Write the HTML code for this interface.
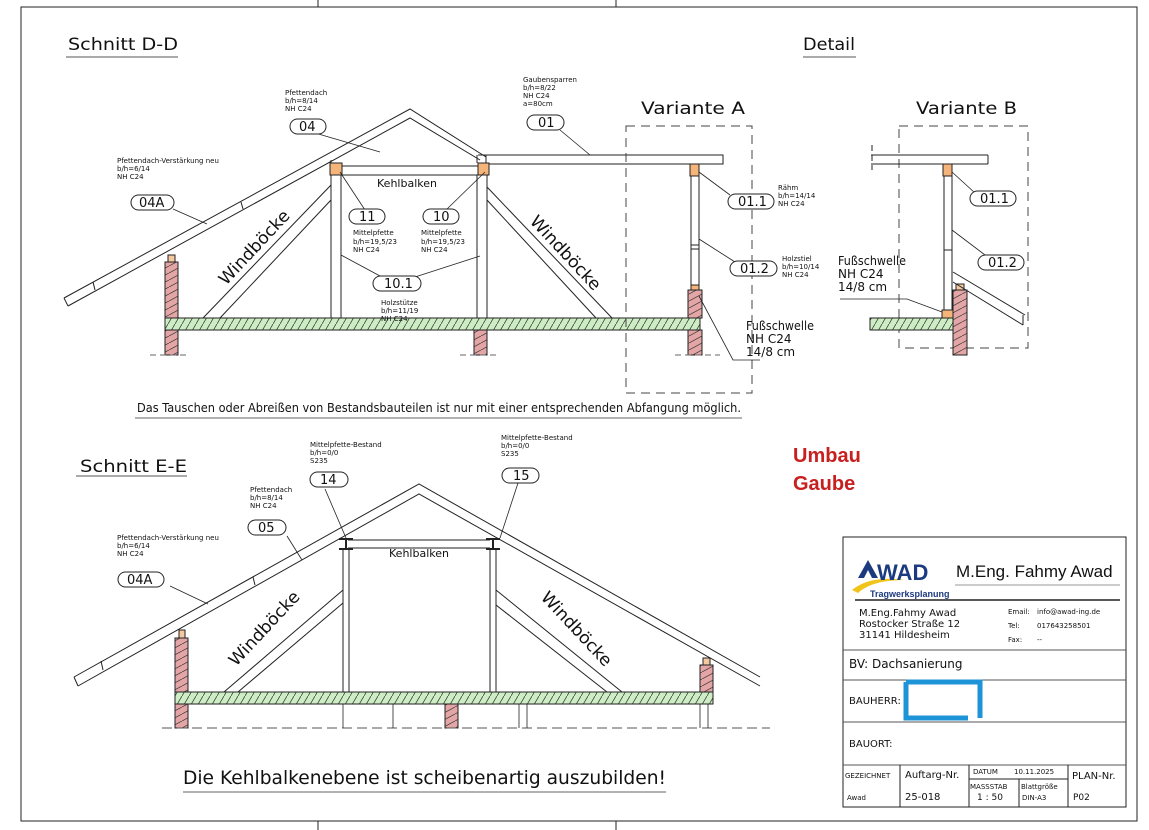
<!DOCTYPE html>
<html><head><meta charset="utf-8"><style>
html,body{margin:0;padding:0;background:#fff;}
svg{display:block;}
text{font-family:"DejaVu Sans","Liberation Sans",sans-serif;fill:#111;}
.cad{font-family:"DejaVu Sans Condensed","DejaVu Sans",sans-serif;}
.s{font-family:"Liberation Sans",sans-serif;font-size:7px;}
</style></head><body>
<svg width="1149" height="830" viewBox="0 0 1149 830" xmlns="http://www.w3.org/2000/svg">
<defs>
<pattern id="hg" width="7" height="12" patternUnits="userSpaceOnUse"><rect width="7" height="12" fill="#cdeec4"/><path d="M0 12 L7 0" stroke="#333" stroke-width="0.7"/></pattern>
<pattern id="hr" width="13" height="7" patternUnits="userSpaceOnUse"><rect width="13" height="7" fill="#e3a5a5"/><path d="M0 7 L13 0" stroke="#333" stroke-width="0.7"/></pattern>
</defs>
<g fill="none" stroke="#222" stroke-width="1">
<rect x="21" y="7" width="1116" height="814"/>
<line x1="318" y1="0" x2="318" y2="7"/><line x1="616" y1="0" x2="616" y2="7"/>
<line x1="318" y1="821" x2="318" y2="830"/><line x1="616" y1="821" x2="616" y2="830"/>

<line x1="66" y1="57" x2="178" y2="57" stroke="#555"/>
<line x1="803" y1="57" x2="856" y2="57" stroke="#555"/>
<polyline points="64,298 410,109 486,157"/>
<polyline points="68,306 410,118 480,160"/>
<line x1="64" y1="298" x2="68" y2="306"/>
<line x1="93" y1="282" x2="95" y2="290"/><line x1="241" y1="202" x2="243" y2="209"/>
<rect x="486" y="155" width="237" height="9"/>
<line x1="478" y1="155" x2="486" y2="155"/>
<line x1="342" y1="166" x2="478" y2="166"/><line x1="342" y1="175" x2="478" y2="175"/>
<rect x="330" y="163" width="12" height="12" fill="#f5b57a"/>
<rect x="478" y="163" width="11" height="12" fill="#f5b57a"/>
<rect x="331" y="175" width="10" height="143"/>
<rect x="477" y="175" width="10" height="143"/>
<line x1="331" y1="160" x2="331" y2="163"/><line x1="477" y1="155" x2="477" y2="163"/>
<line x1="331" y1="185" x2="203" y2="318"/><line x1="331" y1="200" x2="220" y2="318"/>
<line x1="487" y1="187" x2="612" y2="318"/><line x1="487" y1="200" x2="596" y2="318"/>
<rect x="165" y="318" width="535" height="12" fill="url(#hg)"/>
<rect x="165" y="262" width="13" height="56" fill="url(#hr)"/>
<rect x="165" y="330" width="13" height="25" fill="url(#hr)"/>
<rect x="168" y="255" width="7" height="7" fill="#f5c9a0"/>
<rect x="474" y="330" width="13" height="25" fill="url(#hr)"/>
<rect x="688" y="290" width="14" height="28" fill="url(#hr)"/>
<rect x="688" y="330" width="14" height="25" fill="url(#hr)"/>
<rect x="691" y="285" width="8" height="5" fill="#f5b57a"/>
<rect x="690" y="164" width="9" height="12" fill="#f5b57a"/>
<rect x="691" y="176" width="8" height="109"/>
<line x1="691" y1="245" x2="699" y2="245"/><line x1="691" y1="249" x2="699" y2="249"/>
<path d="M150 355 H190 M460 355 H500 M675 355 H720" stroke-dasharray="6 4" stroke="#666"/>
<rect x="626" y="126" width="126" height="267" stroke-dasharray="9 6" stroke="#444"/>
<rect x="899" y="126" width="129" height="222" stroke-dasharray="9 6" stroke="#444"/>
<line x1="871" y1="155" x2="988" y2="155"/><line x1="871" y1="164" x2="988" y2="164"/><line x1="988" y1="155" x2="988" y2="164"/>
<rect x="943" y="164" width="9" height="12" fill="#f5b57a"/>
<rect x="944" y="176" width="8" height="134"/>
<line x1="944" y1="250" x2="952" y2="250"/>
<rect x="942" y="310" width="11" height="8" fill="#f5b57a"/>
<rect x="870" y="318" width="97" height="12" fill="url(#hg)"/>
<rect x="953" y="290" width="14" height="65" fill="url(#hr)"/>
<rect x="956" y="284" width="8" height="6" fill="#f5c9a0"/>
<line x1="953" y1="272" x2="1025" y2="315"/><line x1="953" y1="282" x2="1023" y2="325"/><line x1="1023" y1="315" x2="1023" y2="325"/>
<line x1="872" y1="145" x2="872" y2="170" stroke-dasharray="6 4"/>
<g stroke-width="0.8">
<line x1="315" y1="133" x2="380" y2="152"/>
<line x1="173" y1="209" x2="207" y2="224"/>
<line x1="560" y1="130" x2="590" y2="155"/>
<line x1="340" y1="172" x2="365" y2="210"/>
<line x1="485" y1="172" x2="446" y2="210"/>
<line x1="341" y1="255" x2="380" y2="276"/><line x1="480" y1="256" x2="415" y2="277"/>
<line x1="699" y1="172" x2="730" y2="195"/>
<line x1="699" y1="239" x2="735" y2="262"/>
<polyline points="699,296 733,360 760,360"/>
<line x1="952" y1="172" x2="975" y2="193"/>
<line x1="952" y1="230" x2="985" y2="255"/>
<polyline points="840,299 907,299 942,312"/>
</g>
<line x1="135" y1="418" x2="742" y2="418" stroke="#666"/>

<line x1="76" y1="476" x2="187" y2="476" stroke="#555"/>
<polyline points="74,677 419,484 760,677"/>
<polyline points="78,686 419,494 760,686"/>
<line x1="74" y1="677" x2="78" y2="686"/>
<line x1="101" y1="661" x2="103" y2="670"/><line x1="253" y1="577" x2="255" y2="585"/>
<line x1="348" y1="540" x2="490" y2="540"/><line x1="348" y1="548" x2="490" y2="548"/>
<g stroke-width="2"><line x1="339" y1="539" x2="353" y2="539"/><line x1="339" y1="549" x2="353" y2="549"/><line x1="346" y1="539" x2="346" y2="549"/>
<line x1="486" y1="539" x2="500" y2="539"/><line x1="486" y1="549" x2="500" y2="549"/><line x1="493" y1="539" x2="493" y2="549"/></g>
<rect x="343" y="549" width="6" height="143"/>
<rect x="490" y="549" width="6" height="143"/>
<line x1="343" y1="590" x2="224" y2="692"/><line x1="343" y1="603" x2="238" y2="692"/>
<line x1="496" y1="590" x2="622" y2="692"/><line x1="496" y1="605" x2="607" y2="692"/>
<rect x="175" y="692" width="538" height="12" fill="url(#hg)"/>
<rect x="175" y="638" width="13" height="54" fill="url(#hr)"/>
<rect x="175" y="704" width="13" height="24" fill="url(#hr)"/>
<rect x="179" y="630" width="6" height="8" fill="#f5c9a0"/>
<rect x="445" y="704" width="13" height="24" fill="url(#hr)"/>
<rect x="700" y="665" width="13" height="27" fill="url(#hr)"/>
<rect x="703" y="658" width="7" height="7" fill="#f5c9a0"/>
<path d="M162 728 H770" stroke-dasharray="10 5" stroke="#555"/>
<path d="M343 704V728 M393 704V728 M519 704V728 M527 704V728 M700 704V728 M708 704V728" stroke-width="0.8"/>
<g stroke-width="0.8">
<line x1="287" y1="536" x2="302" y2="560"/>
<line x1="170" y1="586" x2="208" y2="604"/>
<line x1="325" y1="489" x2="346" y2="538"/>
<line x1="518" y1="483" x2="500" y2="538"/>
</g>
<line x1="183" y1="792" x2="666" y2="792" stroke="#666"/>

<rect x="843" y="537" width="283" height="270"/>
<line x1="855" y1="600" x2="1120" y2="600" stroke-width="1.5"/>
<line x1="955" y1="585" x2="1120" y2="585" stroke="#999"/>
<line x1="843" y1="650" x2="1126" y2="650" stroke="#555"/>
<line x1="843" y1="680" x2="1126" y2="680" stroke="#555"/>
<line x1="843" y1="722" x2="1126" y2="722" stroke="#555"/>
<line x1="843" y1="765" x2="1126" y2="765" stroke="#555"/>
<line x1="900" y1="765" x2="900" y2="807"/>
<line x1="969" y1="765" x2="969" y2="807"/>
<line x1="1068" y1="765" x2="1068" y2="807"/>
<line x1="969" y1="779" x2="1068" y2="779"/>
<line x1="1019" y1="779" x2="1019" y2="807"/>
<path d="M906 682 H980 V718 M906 682 V718 H968" stroke="#1d93d8" stroke-width="5"/>
</g>

<path d="M858 578 L868 560 L878 578 L872 578 L868 570 L864 578Z" fill="#1c3a80"/>
<path d="M852 590 Q870 575 905 580 Q872 580 858 593Z" fill="#f0c419"/>
<text x="877" y="580" style="font-family:'Liberation Sans';font-weight:bold;font-size:22px;fill:#1c3a80">WAD</text>
<text x="870" y="597" style="font-family:'Liberation Sans';font-weight:bold;font-size:9px;fill:#1c3a80">Tragwerksplanung</text>
<text x="956" y="577" style="font-family:'Liberation Sans';font-size:17px">M.Eng. Fahmy Awad</text>

<g class="cad">
<text x="68" y="50" font-size="17" textLength="110" lengthAdjust="spacingAndGlyphs">Schnitt D-D</text>
<text x="803" y="50" font-size="17" textLength="52" lengthAdjust="spacingAndGlyphs">Detail</text>
<text x="641" y="114" font-size="17" textLength="104" lengthAdjust="spacingAndGlyphs">Variante A</text>
<text x="916" y="114" font-size="17" textLength="101" lengthAdjust="spacingAndGlyphs">Variante B</text>
<text x="377" y="187" font-size="11" textLength="60" lengthAdjust="spacingAndGlyphs">Kehlbalken</text>
<text transform="translate(226,286) rotate(-47)" font-size="17" textLength="95" lengthAdjust="spacingAndGlyphs">Windböcke</text>
<text transform="translate(529,222) rotate(47)" font-size="17" textLength="95" lengthAdjust="spacingAndGlyphs">Windböcke</text>
<text x="746" y="330" font-size="12" textLength="68" lengthAdjust="spacingAndGlyphs">Fußschwelle</text>
<text x="746" y="343" font-size="12">NH C24</text>
<text x="746" y="356" font-size="12">14/8 cm</text>
<text x="838" y="265" font-size="12" textLength="68" lengthAdjust="spacingAndGlyphs">Fußschwelle</text>
<text x="838" y="278" font-size="12">NH C24</text>
<text x="838" y="291" font-size="12">14/8 cm</text>
<text x="137" y="412" font-size="12" textLength="604" lengthAdjust="spacingAndGlyphs">Das Tauschen oder Abreißen von Bestandsbauteilen ist nur mit einer entsprechenden Abfangung möglich.</text>
<text x="80" y="472" font-size="17" textLength="107" lengthAdjust="spacingAndGlyphs">Schnitt E-E</text>
<text x="389" y="557" font-size="11" textLength="60" lengthAdjust="spacingAndGlyphs">Kehlbalken</text>
<text transform="translate(236,667) rotate(-47)" font-size="17" textLength="95" lengthAdjust="spacingAndGlyphs">Windböcke</text>
<text transform="translate(540,598) rotate(47)" font-size="17" textLength="95" lengthAdjust="spacingAndGlyphs">Windböcke</text>
<text x="183" y="784" font-size="19" textLength="483" lengthAdjust="spacingAndGlyphs">Die Kehlbalkenebene ist scheibenartig auszubilden!</text>
<text x="859" y="616" font-size="10">M.Eng.Fahmy Awad</text>
<text x="859" y="627" font-size="10">Rostocker Straße 12</text>
<text x="859" y="638" font-size="10">31141 Hildesheim</text>
<text x="1008" y="614" font-size="7">Email:</text><text x="1037" y="614" font-size="7">info@awad-ing.de</text>
<text x="1008" y="628" font-size="7">Tel:</text><text x="1037" y="628" font-size="7">017643258501</text>
<text x="1008" y="642" font-size="7">Fax:</text><text x="1037" y="642" font-size="7">--</text>
<text x="849" y="668" font-size="12">BV: Dachsanierung</text>
<text x="849" y="704" font-size="10">BAUHERR:</text>
<text x="849" y="747" font-size="10">BAUORT:</text>
<text x="845" y="778" font-size="7">GEZEICHNET</text>
<text x="847" y="800" font-size="7">Awad</text>
<text x="905" y="778" font-size="10">Auftarg-Nr.</text>
<text x="905" y="800" font-size="10">25-018</text>
<text x="973" y="774" font-size="7">DATUM</text><text x="1014" y="774" font-size="7">10.11.2025</text>
<text x="970" y="789" font-size="7">MASSSTAB</text><text x="977" y="800" font-size="9">1 : 50</text>
<text x="1021" y="789" font-size="7">Blattgröße</text><text x="1022" y="800" font-size="7">DIN-A3</text>
<text x="1072" y="779" font-size="10">PLAN-Nr.</text>
<text x="1073" y="800" font-size="9">P02</text>
</g>

<g class="s">
<text x="285" y="95">Pfettendach</text><text x="285" y="103">b/h=8/14</text><text x="285" y="111">NH C24</text>
<text x="117" y="163">Pfettendach-Verstärkung neu</text><text x="117" y="171">b/h=6/14</text><text x="117" y="179">NH C24</text>
<text x="523" y="82">Gaubensparren</text><text x="523" y="90">b/h=8/22</text><text x="523" y="98">NH C24</text><text x="523" y="106">a=80cm</text>
<text x="353" y="235">Mittelpfette</text><text x="353" y="244">b/h=19,5/23</text><text x="353" y="252">NH C24</text>
<text x="421" y="235">Mittelpfette</text><text x="421" y="244">b/h=19,5/23</text><text x="421" y="252">NH C24</text>
<text x="381" y="305">Holzstütze</text><text x="381" y="313">b/h=11/19</text><text x="381" y="321">NH C24</text>
<text x="778" y="190">Rähm</text><text x="778" y="198">b/h=14/14</text><text x="778" y="206">NH C24</text>
<text x="782" y="261">Holzstiel</text><text x="782" y="269">b/h=10/14</text><text x="782" y="277">NH C24</text>
<text x="310" y="447">Mittelpfette-Bestand</text><text x="310" y="455">b/h=0/0</text><text x="310" y="463">S235</text>
<text x="501" y="440">Mittelpfette-Bestand</text><text x="501" y="448">b/h=0/0</text><text x="501" y="456">S235</text>
<text x="250" y="492">Pfettendach</text><text x="250" y="500">b/h=8/14</text><text x="250" y="508">NH C24</text>
<text x="117" y="540">Pfettendach-Verstärkung neu</text><text x="117" y="548">b/h=6/14</text><text x="117" y="556">NH C24</text>
</g>

<g font-family="Liberation Sans" font-size="13">
<g fill="#fff" stroke="#222" stroke-width="1">
<rect x="290" y="119" width="36" height="15" rx="7.5"/>
<rect x="131" y="195" width="43" height="15" rx="7.5"/>
<rect x="527" y="115" width="37" height="15" rx="7.5"/>
<rect x="349" y="209" width="36" height="15" rx="7.5"/>
<rect x="423" y="209" width="36" height="15" rx="7.5"/>
<rect x="373" y="276" width="48" height="15" rx="7.5"/>
<rect x="728" y="194" width="46" height="15" rx="7.5"/>
<rect x="730" y="261" width="47" height="15" rx="7.5"/>
<rect x="970" y="191" width="46" height="15" rx="7.5"/>
<rect x="978" y="255" width="46" height="15" rx="7.5"/>
<rect x="310" y="472" width="38" height="15" rx="7.5"/>
<rect x="502" y="468" width="37" height="15" rx="7.5"/>
<rect x="248" y="520" width="38" height="15" rx="7.5"/>
<rect x="118" y="572" width="46" height="15" rx="7.5"/>
</g>
<text x="299" y="131">04</text>
<text x="139" y="207">04A</text>
<text x="538" y="127">01</text>
<text x="359" y="221">11</text>
<text x="433" y="221">10</text>
<text x="384" y="288">10.1</text>
<text x="738" y="206">01.1</text>
<text x="740" y="273">01.2</text>
<text x="980" y="203">01.1</text>
<text x="988" y="267">01.2</text>
<text x="320" y="484">14</text>
<text x="513" y="480">15</text>
<text x="258" y="532">05</text>
<text x="127" y="584">04A</text>
</g>

<text x="793" y="462" style="font-family:'Liberation Sans';font-weight:bold;font-size:20px;fill:#c8201f">Umbau</text>
<text x="793" y="490" style="font-family:'Liberation Sans';font-weight:bold;font-size:20px;fill:#c8201f">Gaube</text>
</svg>
</body></html>
